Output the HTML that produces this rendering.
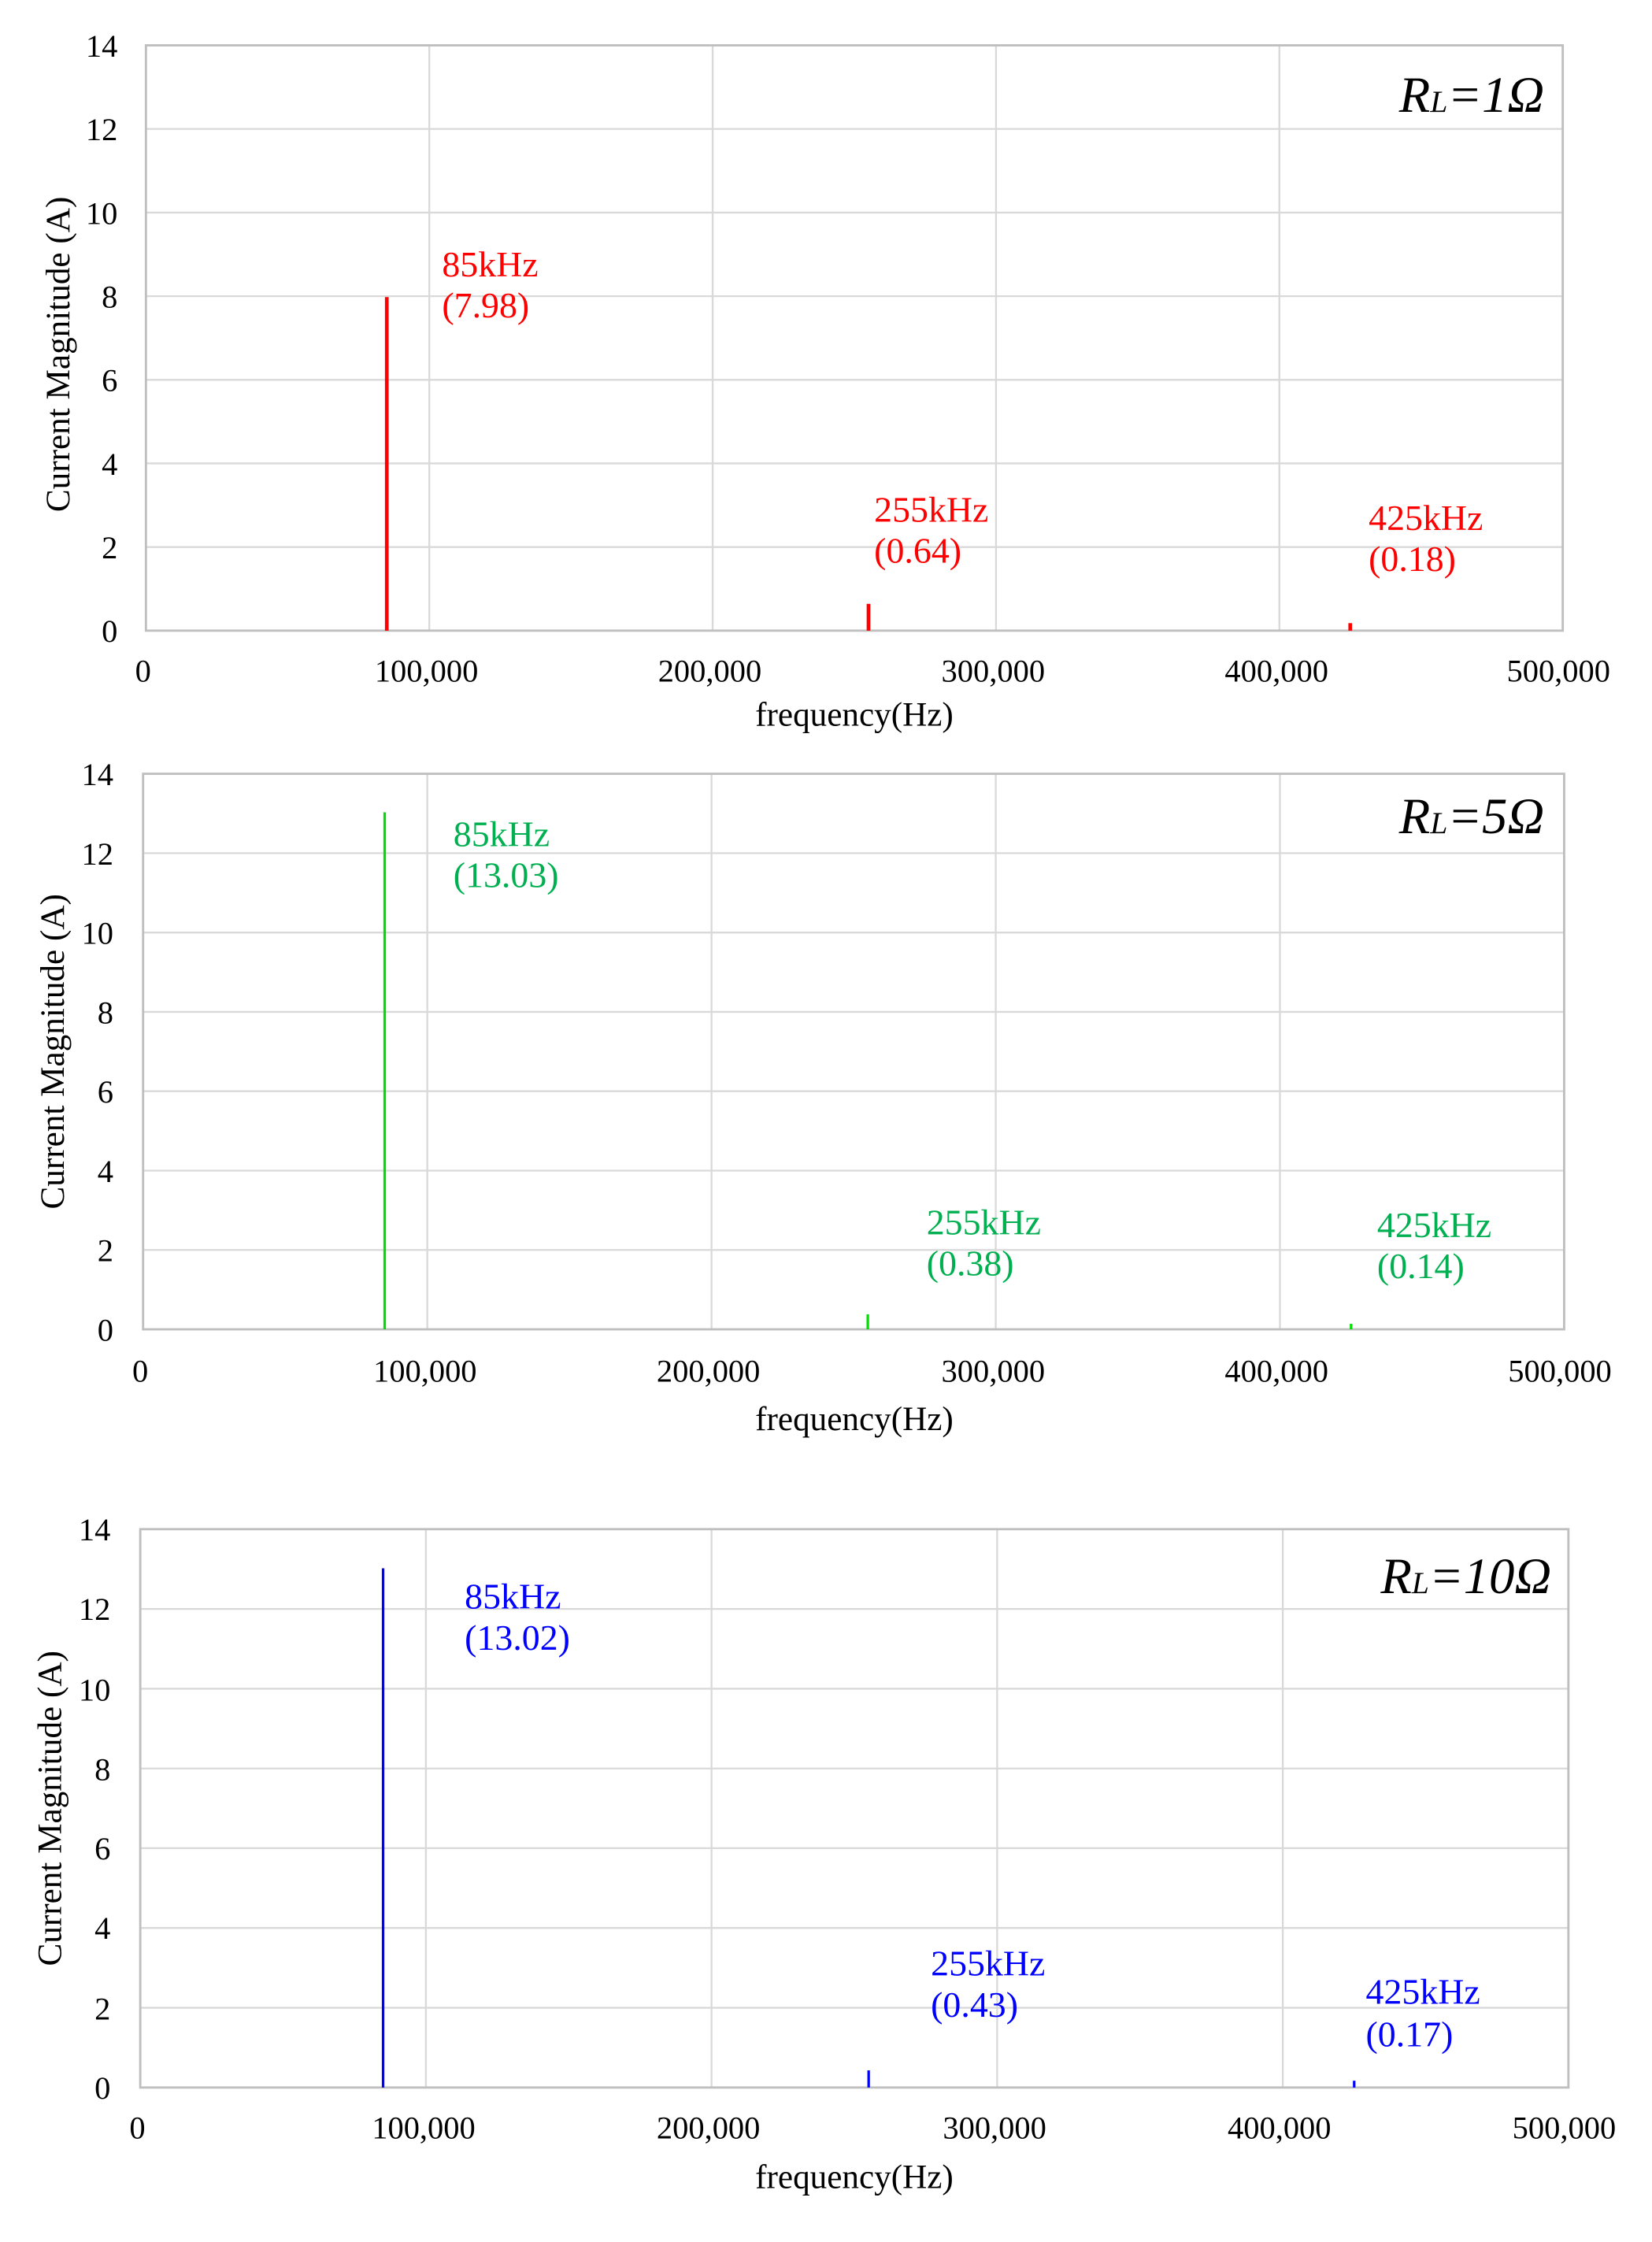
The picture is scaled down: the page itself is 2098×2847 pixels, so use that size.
<!DOCTYPE html>
<html><head><meta charset="utf-8"><style>
html,body{margin:0;padding:0;background:#fff;}
svg{display:block;}
text{font-family:"Liberation Serif",serif;}
</style></head><body>
<svg width="2098" height="2847" viewBox="0 0 1166 1582" preserveAspectRatio="none" xmlns="http://www.w3.org/2000/svg">
<rect width="1166" height="1582" fill="#fff"/>
<!-- Chart 1 -->
<g stroke="#d9d9d9" stroke-width="1.3">
<line x1="103" x2="1103" y1="91" y2="91"/><line x1="103" x2="1103" y1="150" y2="150"/><line x1="103" x2="1103" y1="209" y2="209"/><line x1="103" x2="1103" y1="268" y2="268"/><line x1="103" x2="1103" y1="327" y2="327"/><line x1="103" x2="1103" y1="386" y2="386"/>
<line x1="303" x2="303" y1="32" y2="445"/><line x1="503" x2="503" y1="32" y2="445"/><line x1="703" x2="703" y1="32" y2="445"/><line x1="903" x2="903" y1="32" y2="445"/>
</g>
<rect x="103" y="32" width="1000" height="413" fill="none" stroke="#bfbfbf" stroke-width="1.6"/>
<g stroke="#ff0000" stroke-width="2.6"><line x1="273" x2="273" y1="445" y2="209.6"/><line x1="613" x2="613" y1="445" y2="426.1"/><line x1="953" x2="953" y1="445" y2="439.7"/></g>
<g font-size="22.5" text-anchor="end" fill="#000"><text x="83" y="40">14</text><text x="83" y="99">12</text><text x="83" y="158">10</text><text x="83" y="217">8</text><text x="83" y="276">6</text><text x="83" y="335">4</text><text x="83" y="394">2</text><text x="83" y="453">0</text></g>
<g font-size="22.5" text-anchor="middle" fill="#000"><text x="101" y="481">0</text><text x="301" y="481">100,000</text><text x="501" y="481">200,000</text><text x="701" y="481">300,000</text><text x="901" y="481">400,000</text><text x="1100" y="481">500,000</text></g>
<text x="603" y="512" font-size="24" text-anchor="middle">frequency(Hz)</text>
<text transform="translate(49,250) rotate(-90)" font-size="24" text-anchor="middle">Current Magnitude (A)</text>
<text x="1090" y="79" font-size="36" font-style="italic" text-anchor="end">R<tspan font-size="22">L</tspan>=1Ω</text>
<g font-size="25.5" fill="#ff0000"><text x="312" y="195">85kHz</text><text x="312" y="224">(7.98)</text><text x="617" y="368">255kHz</text><text x="617" y="397">(0.64)</text><text x="966" y="374">425kHz</text><text x="966" y="403">(0.18)</text></g>

<!-- Chart 2 -->
<g stroke="#d9d9d9" stroke-width="1.3">
<line x1="101" x2="1104" y1="602" y2="602"/><line x1="101" x2="1104" y1="658" y2="658"/><line x1="101" x2="1104" y1="714" y2="714"/><line x1="101" x2="1104" y1="770" y2="770"/><line x1="101" x2="1104" y1="826" y2="826"/><line x1="101" x2="1104" y1="882" y2="882"/>
<line x1="301.6" x2="301.6" y1="546" y2="938"/><line x1="502.2" x2="502.2" y1="546" y2="938"/><line x1="702.8" x2="702.8" y1="546" y2="938"/><line x1="903.4" x2="903.4" y1="546" y2="938"/>
</g>
<rect x="101" y="546" width="1003" height="392" fill="none" stroke="#bfbfbf" stroke-width="1.6"/>
<g stroke="#00dd00" stroke-width="1.8"><line x1="271.5" x2="271.5" y1="938" y2="573.2"/><line x1="612.5" x2="612.5" y1="938" y2="927.4"/><line x1="953.6" x2="953.6" y1="938" y2="934.1"/></g>
<g font-size="22.5" text-anchor="end" fill="#000"><text x="80" y="554">14</text><text x="80" y="610">12</text><text x="80" y="666">10</text><text x="80" y="722">8</text><text x="80" y="778">6</text><text x="80" y="834">4</text><text x="80" y="890">2</text><text x="80" y="946">0</text></g>
<g font-size="22.5" text-anchor="middle" fill="#000"><text x="99" y="975">0</text><text x="300" y="975">100,000</text><text x="500" y="975">200,000</text><text x="701" y="975">300,000</text><text x="901" y="975">400,000</text><text x="1101" y="975">500,000</text></g>
<text x="603" y="1009" font-size="24" text-anchor="middle">frequency(Hz)</text>
<text transform="translate(45,742) rotate(-90)" font-size="24" text-anchor="middle">Current Magnitude (A)</text>
<text x="1090" y="588" font-size="36" font-style="italic" text-anchor="end">R<tspan font-size="22">L</tspan>=5Ω</text>
<g font-size="25.5" fill="#00b050"><text x="320" y="597">85kHz</text><text x="320" y="626">(13.03)</text><text x="654" y="871">255kHz</text><text x="654" y="900">(0.38)</text><text x="972" y="873">425kHz</text><text x="972" y="902">(0.14)</text></g>

<!-- Chart 3 -->
<g stroke="#d9d9d9" stroke-width="1.3">
<line x1="99" x2="1107" y1="1135.3" y2="1135.3"/><line x1="99" x2="1107" y1="1191.6" y2="1191.6"/><line x1="99" x2="1107" y1="1247.9" y2="1247.9"/><line x1="99" x2="1107" y1="1304.1" y2="1304.1"/><line x1="99" x2="1107" y1="1360.4" y2="1360.4"/><line x1="99" x2="1107" y1="1416.7" y2="1416.7"/>
<line x1="300.6" x2="300.6" y1="1079" y2="1473"/><line x1="502.2" x2="502.2" y1="1079" y2="1473"/><line x1="703.8" x2="703.8" y1="1079" y2="1473"/><line x1="905.4" x2="905.4" y1="1079" y2="1473"/>
</g>
<rect x="99" y="1079" width="1008" height="394" fill="none" stroke="#bfbfbf" stroke-width="1.6"/>
<g stroke="#0000ff" stroke-width="1.8"><line x1="270.4" x2="270.4" y1="1473" y2="1106.6"/><line x1="613.1" x2="613.1" y1="1473" y2="1460.9"/><line x1="955.8" x2="955.8" y1="1473" y2="1468.2"/></g>
<g font-size="22.5" text-anchor="end" fill="#000"><text x="78" y="1087">14</text><text x="78" y="1143">12</text><text x="78" y="1200">10</text><text x="78" y="1256">8</text><text x="78" y="1312">6</text><text x="78" y="1368">4</text><text x="78" y="1425">2</text><text x="78" y="1481">0</text></g>
<g font-size="22.5" text-anchor="middle" fill="#000"><text x="97" y="1509">0</text><text x="299" y="1509">100,000</text><text x="500" y="1509">200,000</text><text x="702" y="1509">300,000</text><text x="903" y="1509">400,000</text><text x="1104" y="1509">500,000</text></g>
<text x="603" y="1544" font-size="24" text-anchor="middle">frequency(Hz)</text>
<text transform="translate(43,1276) rotate(-90)" font-size="24" text-anchor="middle">Current Magnitude (A)</text>
<text x="1095" y="1124" font-size="36" font-style="italic" text-anchor="end">R<tspan font-size="22">L</tspan>=10Ω</text>
<g font-size="25.5" fill="#0000ff"><text x="328" y="1135">85kHz</text><text x="328" y="1164">(13.02)</text><text x="657" y="1394">255kHz</text><text x="657" y="1423">(0.43)</text><text x="964" y="1414">425kHz</text><text x="964" y="1444">(0.17)</text></g>
</svg>
</body></html>
